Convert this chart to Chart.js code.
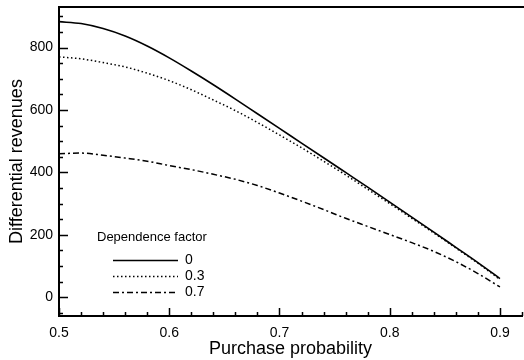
<!DOCTYPE html>
<html>
<head>
<meta charset="utf-8">
<script src="https://cdn.jsdelivr.net/npm/chart.js@4/dist/chart.umd.min.js"></script>
<style>
  html, body { margin: 0; padding: 0; background: #fff; }
  #wrap { width: 524px; height: 360px; position: relative; }
</style>
</head>
<body>
<div id="wrap"><canvas id="c" width="524" height="360"></canvas></div>
<script>
// ---- data ----
const probability = [0.50, 0.52, 0.54, 0.56, 0.58, 0.60, 0.62, 0.64, 0.66, 0.68, 0.70,
                     0.72, 0.74, 0.76, 0.78, 0.80, 0.82, 0.84, 0.86, 0.88, 0.90];
const revenueFactor0  = [883, 877, 861, 837, 805, 767, 725, 681, 635, 588, 541,
                         494, 447, 400, 353, 305, 257, 209, 160, 111, 60];
const revenueFactor03 = [770, 764, 752, 738, 718, 694, 665, 632, 598, 560, 520,
                         479, 436, 392, 346, 300, 253, 206, 158, 109, 57];
const revenueFactor07 = [460, 462, 455, 446, 436, 422, 409, 394, 378, 358, 334,
                         308, 281, 253, 227, 201, 175, 147, 114, 76, 33];
const seriesLabels = ['0', '0.3', '0.7'];
const legendTitle = 'Dependence factor';
const xTickValues = [0.5, 0.6, 0.7, 0.8, 0.9];
const yTickValues = [0, 200, 400, 600, 800];
const xMinorStep = 0.02;
const yMinorStep = 50;

const FONT = "'Liberation Sans', Arial, Helvetica, sans-serif";

function pts(ys) { return probability.map((x, i) => ({ x: x, y: ys[i] })); }

// inward ticks drawn through the library's scales
const inwardTicks = {
  id: 'inwardTicks',
  afterDraw(chart) {
    const ctx = chart.ctx, xs = chart.scales.x, ys = chart.scales.y;
    const a = chart.chartArea;
    ctx.save();
    ctx.strokeStyle = '#000';
    ctx.lineWidth = 1.5;
    ctx.beginPath();
    for (let v = xs.min; v <= xs.max + 1e-9; v += xMinorStep) {
      const p = Math.round(xs.getPixelForValue(v)) + 0.5;
      ctx.moveTo(p, a.bottom); ctx.lineTo(p, a.bottom - 4);
    }
    xTickValues.forEach(v => {
      const p = Math.round(xs.getPixelForValue(v)) + 0.5;
      ctx.moveTo(p, a.bottom); ctx.lineTo(p, a.bottom - 8);
    });
    const start = Math.ceil(ys.min / yMinorStep) * yMinorStep;
    for (let v = start; v <= ys.max; v += yMinorStep) {
      const p = Math.round(ys.getPixelForValue(v)) + 0.5;
      ctx.moveTo(a.left, p); ctx.lineTo(a.left + 4, p);
    }
    yTickValues.forEach(v => {
      const p = Math.round(ys.getPixelForValue(v)) + 0.5;
      ctx.moveTo(a.left, p); ctx.lineTo(a.left + 9, p);
    });
    ctx.stroke();
    // top frame line
    ctx.lineWidth = 2;
    ctx.beginPath();
    ctx.moveTo(a.left - 1, a.top);
    ctx.lineTo(chart.width, a.top);
    ctx.stroke();
    ctx.restore();
  }
};

// in-plot legend
const insideLegend = {
  id: 'insideLegend',
  afterDraw(chart) {
    const ctx = chart.ctx;
    ctx.save();
    ctx.fillStyle = '#000';
    ctx.font = '13px ' + FONT;
    ctx.textBaseline = 'middle';
    ctx.textAlign = 'left';
    ctx.fillText(legendTitle, 97, 237);
    chart.data.datasets.forEach((ds, i) => {
      const y = 260 + i * 16;
      ctx.strokeStyle = ds.borderColor;
      ctx.lineWidth = ds.borderWidth;
      ctx.setLineDash(ds.borderDash || []);
      ctx.beginPath();
      ctx.moveTo(113, y + 0.5);
      ctx.lineTo(178, y + 0.5);
      ctx.stroke();
      ctx.setLineDash([]);
      ctx.font = '14px ' + FONT;
      ctx.fillText(ds.label, 185, y);
    });
    ctx.restore();
  }
};

new Chart(document.getElementById('c'), {
  type: 'line',
  data: {
    datasets: [
      { label: seriesLabels[0], data: pts(revenueFactor0), borderColor: '#000', borderWidth: 1.6, borderDash: [], pointRadius: 0, cubicInterpolationMode: 'monotone', fill: false },
      { label: seriesLabels[1], data: pts(revenueFactor03), borderColor: '#000', borderWidth: 1.5, borderDash: [1.5, 2.5], pointRadius: 0, cubicInterpolationMode: 'monotone', fill: false },
      { label: seriesLabels[2], data: pts(revenueFactor07), borderColor: '#000', borderWidth: 1.5, borderDash: [6, 3, 2, 3], pointRadius: 0, cubicInterpolationMode: 'monotone', fill: false }
    ]
  },
  options: {
    responsive: false,
    animation: false,
    layout: { padding: { left: 6, right: 2, top: 7, bottom: 0 } },
    plugins: { legend: { display: false }, tooltip: { enabled: false } },
    scales: {
      x: {
        type: 'linear',
        min: 0.5, max: 0.92,
        afterBuildTicks: s => { s.ticks = xTickValues.map(v => ({ value: v })); },
        afterFit: s => { s.height = 44; s.paddingLeft = 0; s.paddingRight = 0; },
        grid: { display: false, drawTicks: false },
        border: { display: true, color: '#000', width: 2 },
        ticks: { color: '#000', font: { family: FONT, size: 14 }, padding: 9, maxRotation: 0,
                 callback: v => v.toFixed(1) },
        title: { display: true, text: 'Purchase probability', color: '#000',
                 font: { family: FONT, size: 18 }, padding: { top: 0, bottom: 0 } }
      },
      y: {
        type: 'linear',
        min: -60, max: 930,
        afterBuildTicks: s => { s.ticks = yTickValues.map(v => ({ value: v })); },
        afterFit: s => { s.width = 53; s.paddingTop = 0; s.paddingBottom = 0; },
        grid: { display: false, drawTicks: false },
        border: { display: true, color: '#000', width: 2 },
        ticks: { color: '#000', font: { family: FONT, size: 14 }, padding: 6,
                 callback: v => String(v) },
        title: { display: true, text: 'Differential revenues', color: '#000',
                 font: { family: FONT, size: 18 }, padding: { top: 0, bottom: 0 } }
      }
    }
  },
  plugins: [inwardTicks, insideLegend]
});
</script>
</body>
</html>
